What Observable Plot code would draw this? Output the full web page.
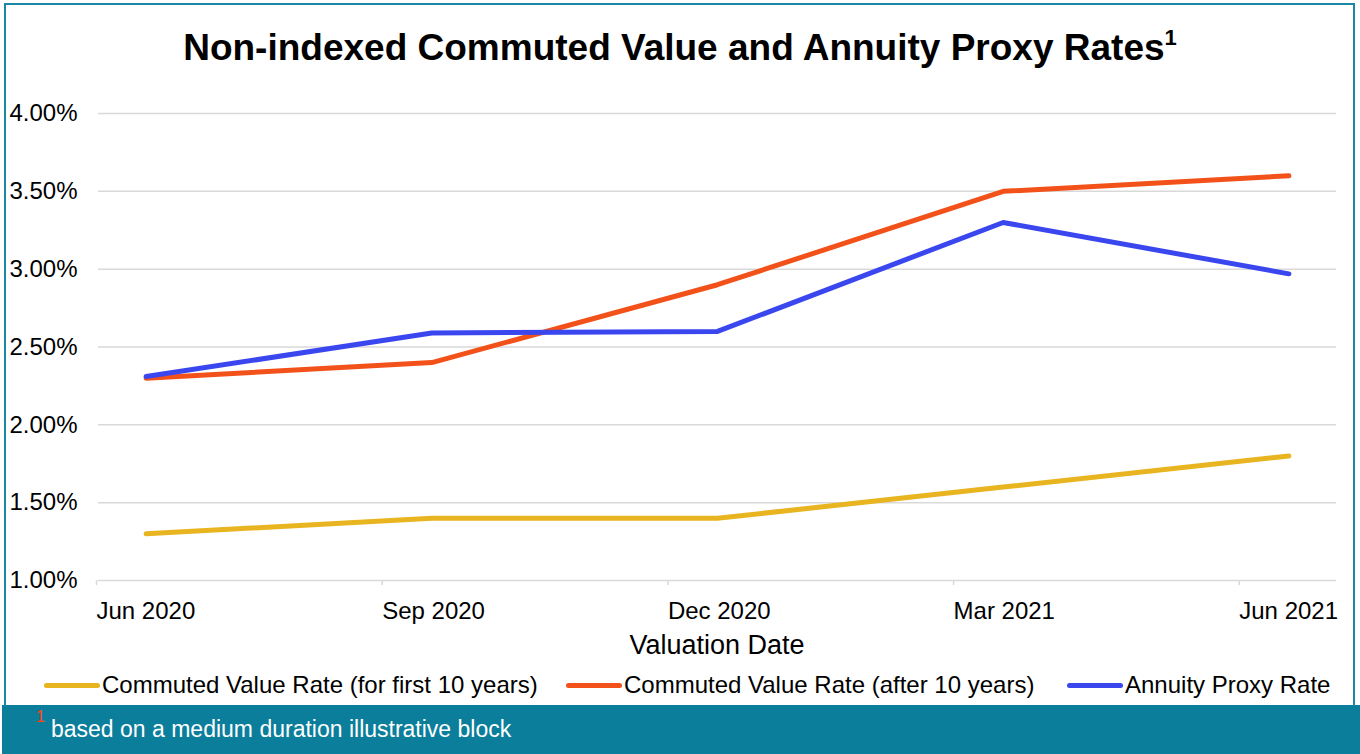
<!DOCTYPE html>
<html>
<head>
<meta charset="utf-8">
<script src="https://cdn.jsdelivr.net/npm/d3@7"></script>
<script src="https://cdn.jsdelivr.net/npm/@observablehq/plot@0.6"></script>
<style>
  html, body { margin: 0; padding: 0; background: #ffffff; }
  #wrap { position: relative; width: 1360px; height: 754px; overflow: hidden; background: #fff;
          font-family: "Liberation Sans", Arial, sans-serif; color: #000; }
  #frame { position: absolute; left: 4px; top: 3px; width: 1351px; height: 703px;
           border: 2px solid #1a87a5; box-sizing: border-box; border-bottom: none; pointer-events: none; }
  #title { position: absolute; left: 0; width: 1360px; top: 26px; text-align: center;
           font-size: 37px; font-weight: bold; line-height: 44px; }
  #title sup { font-size: 22px; vertical-align: 15px; line-height: 0; }
  #chart { position: absolute; left: 0; top: 0; }
  #xlabel { position: absolute; left: 98px; width: 1238px; top: 629px; text-align: center;
            font-size: 27px; line-height: 32px; }
  .leg { position: absolute; top: 671px; height: 28px; font-size: 24px; line-height: 28px; white-space: nowrap; display: flex; align-items: center; }
  .leg .sw { display: inline-block; width: 56px; height: 5px; border-radius: 3px; margin-right: 2px; }
  #footer { position: absolute; left: 2px; right: 0; top: 705px; bottom: 0; background: #0a7e9b; }
  #footnote { position: absolute; left: 51px; top: 716px; font-size: 23px; color: #fff; line-height: 26px; white-space: nowrap; }
  #fnmark { position: absolute; left: 36px; top: 709px; font-size: 16px; line-height: 16px; color: #ff4612; }
</style>
</head>
<body>
<div id="wrap">
  <div id="chart"></div>
  <div id="title">Non-indexed Commuted Value and Annuity Proxy Rates<sup>1</sup></div>
  <div id="xlabel">Valuation Date</div>
  <div id="legend"></div>
  <div id="footer"></div>
  <div id="fnmark">1</div>
  <div id="footnote">based on a medium duration illustrative block</div>
  <div id="frame"></div>
</div>
<script>
// ---- data ----
const categories = ["Jun 2020", "Sep 2020", "Dec 2020", "Mar 2021", "Jun 2021"];
const monthIndex = [0, 3, 6, 9, 12]; // months since Jun 2020
const seriesNames = [
  "Commuted Value Rate (for first 10 years)",
  "Commuted Value Rate (after 10 years)",
  "Annuity Proxy Rate"
];
const cvFirst10 = [1.30, 1.40, 1.40, 1.60, 1.80];
const cvAfter10 = [2.30, 2.40, 2.90, 3.50, 3.60];
const annuityProxy = [2.31, 2.59, 2.60, 3.30, 2.97];
const seriesColors = ["#e8b420", "#f25219", "#3a47ef"];
const yTicks = [1.00, 1.50, 2.00, 2.50, 3.00, 3.50, 4.00];

const seriesValues = [cvFirst10, cvAfter10, annuityProxy];
const rows = [];
seriesNames.forEach((name, s) => {
  categories.forEach((c, i) => {
    rows.push({series: name, label: c, month: monthIndex[i] + 0.5, value: seriesValues[s][i]});
  });
});

const plot = Plot.plot({
  width: 1360,
  height: 660,
  marginLeft: 98,
  marginRight: 24,
  marginTop: 113,
  marginBottom: 80,
  style: {fontFamily: '"Liberation Sans", Arial, sans-serif', fontSize: "24px", color: "#000", background: "transparent"},
  x: {domain: [0, 13]},
  y: {domain: [1, 4]},
  color: {domain: seriesNames, range: seriesColors},
  marks: [
    Plot.gridY(yTicks, {stroke: "#d9d9d9", strokeOpacity: 1, strokeWidth: 1.5}),
    Plot.axisY(yTicks, {tickSize: 0, tickPadding: 21, fontSize: 24, tickFormat: d => d.toFixed(2) + "%", label: null}),
    Plot.axisX(monthIndex, {tickSize: 5, stroke: "#d9d9d9", strokeWidth: 1.5, tickPadding: 16, textAnchor: "start", dx: -2,
      fontSize: 24, tickFormat: (d) => categories[monthIndex.indexOf(d)], label: null}),
    Plot.line(rows, {x: "month", y: "value", z: "series", stroke: "series", strokeWidth: 5,
      strokeLinecap: "round", strokeLinejoin: "round"})
  ]
});
document.getElementById("chart").appendChild(plot);

// legend
const legendX = [44, 566, 1067];
const legend = document.getElementById("legend");
seriesNames.forEach((name, i) => {
  const item = document.createElement("div");
  item.className = "leg";
  item.style.left = legendX[i] + "px";
  const sw = document.createElement("span");
  sw.className = "sw";
  sw.style.background = seriesColors[i];
  const t = document.createElement("span");
  t.textContent = name;
  item.appendChild(sw);
  item.appendChild(t);
  legend.appendChild(item);
});
</script>
</body>
</html>
